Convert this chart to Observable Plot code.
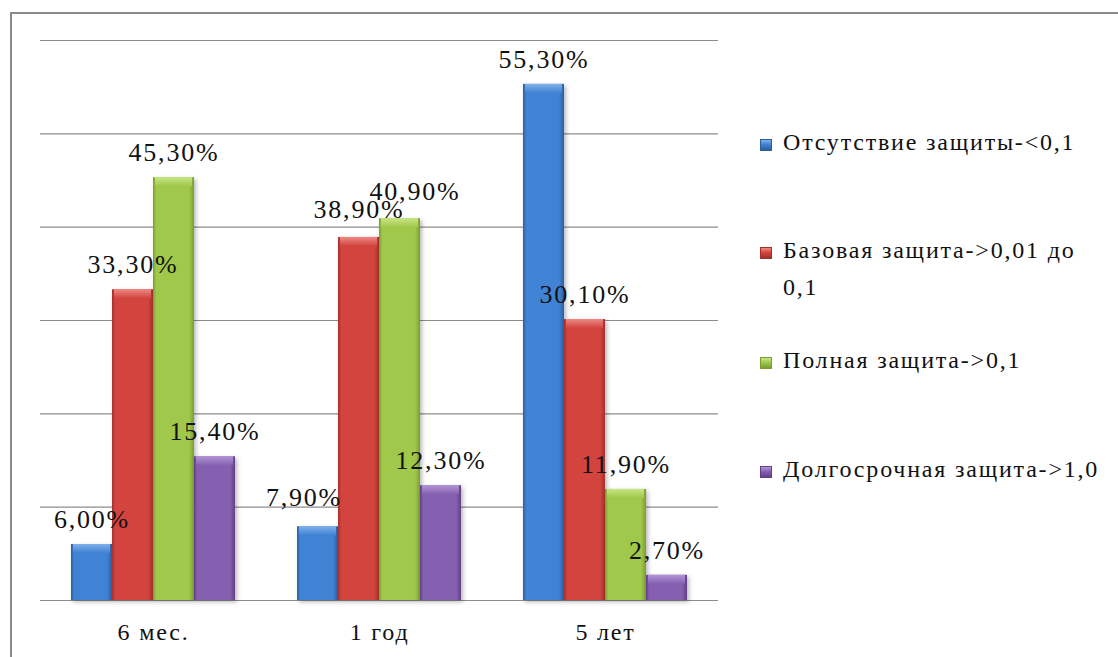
<!DOCTYPE html>
<html lang="ru">
<head>
<meta charset="utf-8">
<script src="https://cdn.jsdelivr.net/npm/d3@7"></script>
<script src="https://cdn.jsdelivr.net/npm/@observablehq/plot@0.6"></script>
<style>
  html, body { margin: 0; padding: 0; background: #fff; }
  #wrap { position: relative; width: 1118px; height: 657px; overflow: hidden;
          font-family: "Liberation Serif", "Times New Roman", Times, Tinos, "DejaVu Serif", "Noto Serif", FreeSerif, serif; }
  #frame { position: absolute; left: 10px; top: 12px; width: 1200px; height: 700px;
           border-left: 2px solid #8a8a8a; border-top: 2px solid #8a8a8a; box-sizing: border-box; }
  #chart { position: absolute; left: 0; top: 0; }
  #legend { position: absolute; left: 760px; top: 0; font-size: 24px; color: #111; letter-spacing: 1.8px; }
  .item { position: absolute; left: 0; display: flex; align-items: flex-start; width: 360px; }
  .sw { width: 12px; height: 12px; margin-top: 11px; margin-right: 11px; flex: none; box-sizing: border-box; }
  .lbl { line-height: 37px; margin-top: -4px; width: 322px; }
</style>
</head>
<body>
<div id="wrap">
  <div id="frame"></div>
  <div id="chart"></div>
  <div id="legend"></div>
</div>
<script>
// Periods after vaccination
const groups = ["6 мес.", "1 год", "5 лет"];
// Protection levels
const series = [
  "Отсутствие защиты-<0,1",
  "Базовая защита->0,01 до 0,1",
  "Полная защита->0,1",
  "Долгосрочная защита->1,0"
];
// Share of patients, % (one row per period, one value per protection level)
const values6m = [6.0, 33.3, 45.3, 15.4];
const values1y = [7.9, 38.9, 40.9, 12.3];
const values5y = [55.3, 30.1, 11.9, 2.7];
const gridTicks = [0, 10, 20, 30, 40, 50, 60];

const serifFont = "'Liberation Serif', 'Times New Roman', Times, Tinos, 'DejaVu Serif', 'Noto Serif', FreeSerif, serif";
const colors = ["#4082d4", "#d4443f", "#a0c84a", "#8660b0"];
const dark   = ["#2c5f9e", "#a3302c", "#7a9c33", "#5f3f86"];
const light  = ["#7fb0ea", "#ec8a86", "#c8e585", "#b295d6"];

const rows = [values6m, values1y, values5y];
const data = groups.flatMap((g, gi) =>
  series.map((s, si) => ({ group: g, series: s, si, value: rows[gi][si] }))
);

// label offsets (px) where neighbouring value labels would collide
const nudges = [
  { group: "1 год", si: 0, dx: -14, dy: -29 },
  { group: "1 год", si: 1, dx: 0, dy: -28 },
  { group: "1 год", si: 2, dx: 15, dy: -27 }
];
const isNudged = d => nudges.some(n => n.group === d.group && n.si === d.si);
const fmt = v => v.toFixed(2).replace(".", ",") + "%";

const labelOpts = {
  fx: "group", x: "series", y: "value",
  text: d => fmt(d.value),
  fontSize: 26, fill: "#111"
};

const chart = Plot.plot({
  width: 1118,
  height: 657,
  marginLeft: 40,
  marginRight: 400,
  marginTop: 40,
  marginBottom: 57,
  style: { fontFamily: serifFont, fontSize: "24px", color: "#111", background: "transparent" },
  fx: { domain: groups, padding: 0, label: null },
  x: { domain: series, paddingInner: 0, paddingOuter: 0.74, axis: null },
  y: { domain: [0, 60], axis: null },
  marks: [
    Plot.ruleY(gridTicks, { stroke: "#8c8c8c", strokeWidth: 1.2 }),
    Plot.axisFx({ anchor: "bottom", tickSize: 0, tickPadding: 22, label: null, fontSize: 24 }),
    ...series.map((s, si) =>
      Plot.barY(data.filter(d => d.si === si), {
        fx: "group", x: "series", y: "value",
        fill: `url(#body-${si})`, className: "bar-body"
      })
    ),
    ...series.map((s, si) =>
      Plot.barY(data.filter(d => d.si === si), {
        fx: "group", x: "series", y1: "value", y2: "value",
        insetBottom: -9, insetLeft: 2, insetRight: 2,
        fill: `url(#cap-${si})`
      })
    ),
    Plot.text(data.filter(d => !isNudged(d)), { ...labelOpts, dy: -25 }),
    ...nudges.map(n =>
      Plot.text(data.filter(d => d.group === n.group && d.si === n.si), { ...labelOpts, dx: n.dx, dy: n.dy })
    )
  ]
});

// gradients giving the bars their bevelled look
const svg = d3.select(chart);
const defs = svg.insert("defs", ":first-child");
colors.forEach((c, i) => {
  const gb = defs.append("linearGradient").attr("id", `body-${i}`).attr("x1", 0).attr("x2", 1).attr("y1", 0).attr("y2", 0);
  gb.append("stop").attr("offset", "0%").attr("stop-color", dark[i]);
  gb.append("stop").attr("offset", "8%").attr("stop-color", c);
  gb.append("stop").attr("offset", "88%").attr("stop-color", c);
  gb.append("stop").attr("offset", "100%").attr("stop-color", dark[i]);
  const gc = defs.append("linearGradient").attr("id", `cap-${i}`).attr("x1", 0).attr("x2", 0).attr("y1", 0).attr("y2", 1);
  gc.append("stop").attr("offset", "0%").attr("stop-color", light[i]);
  gc.append("stop").attr("offset", "100%").attr("stop-color", c);
});
svg.selectAll(".bar-body").style("filter", "drop-shadow(2px 2px 2px rgba(0,0,0,0.28))");
svg.selectAll("text").style("letter-spacing", "1.8px");
document.getElementById("chart").appendChild(chart);

// legend on the right
const tops = [128, 236, 346, 455];
const legend = d3.select("#legend");
series.forEach((s, i) => {
  const item = legend.append("div").attr("class", "item").style("top", tops[i] + "px");
  item.append("div").attr("class", "sw")
    .style("background", `linear-gradient(180deg, ${light[i]} 0%, ${colors[i]} 45%, ${dark[i]} 100%)`)
    .style("border", `1px solid ${dark[i]}`);
  item.append("div").attr("class", "lbl").text(s);
});
</script>
</body>
</html>
